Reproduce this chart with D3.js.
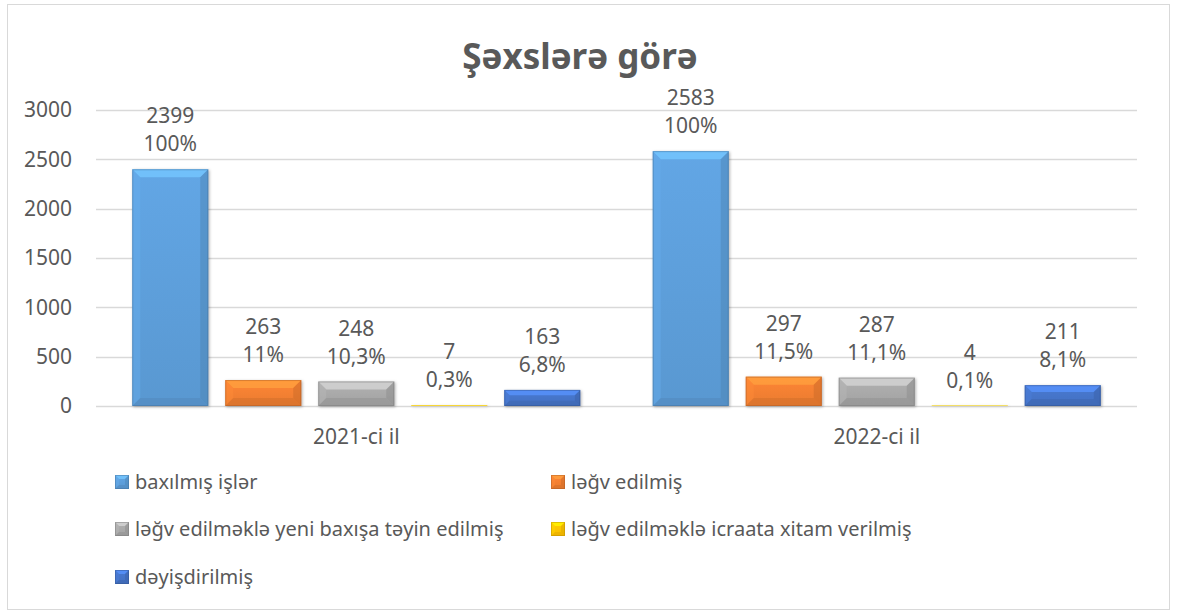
<!DOCTYPE html>
<html>
<head>
<meta charset="utf-8">
<script src="https://cdn.jsdelivr.net/npm/d3@7"></script>
<style>
  body { margin: 0; background: #fff; }
  text { font-family: "Noto Sans", "Open Sans", sans-serif; fill: #595959; }
</style>
</head>
<body>
<svg id="chart" width="1177" height="615"></svg>
<script>
// data
var years = ["2021-ci il", "2022-ci il"];
var seriesNames = [
  "baxılmış işlər",
  "ləğv edilmiş",
  "ləğv edilməklə yeni baxışa təyin edilmiş",
  "ləğv edilməklə icraata xitam verilmiş",
  "dəyişdirilmiş"
];
var values2021 = [2399, 263, 248, 7, 163];
var values2022 = [2583, 297, 287, 4, 211];
var pct2021 = ["100%", "11%", "10,3%", "0,3%", "6,8%"];
var pct2022 = ["100%", "11,5%", "11,1%", "0,1%", "8,1%"];
var yTicks = [0, 500, 1000, 1500, 2000, 2500, 3000];
var colors = ["#5B9BD5", "#ED7D31", "#A5A5A5", "#FFC000", "#4472C4"];

var svg = d3.select("#chart");

// chart frame
svg.append("rect")
  .attr("x", 7.5).attr("y", 4.5)
  .attr("width", 1162).attr("height", 605)
  .attr("fill", "#fff")
  .attr("stroke", "#D9D9D9");

var margin = {top: 110, left: 96, right: 40, bottom: 209};
var width = 1177 - margin.left - margin.right,
    height = 615 - margin.top - margin.bottom;

var g = svg.append("g")
  .attr("transform", "translate(" + margin.left + "," + margin.top + ")");

var x0 = d3.scaleBand().domain(years).range([0, width]);
var x1 = d3.scaleBand().domain(d3.range(seriesNames.length))
  .range([0, x0.bandwidth()]).paddingInner(0.183).paddingOuter(0.39);
var y = d3.scaleLinear().domain([0, 3000]).range([height, 0]);

// gradients per colour
var defs = svg.append("defs");
colors.forEach(function(c, i) {
  var grad = defs.append("linearGradient")
    .attr("id", "grad" + i)
    .attr("x1", 0).attr("y1", 0).attr("x2", 0).attr("y2", 1);
  grad.append("stop").attr("offset", "0%").attr("stop-color", d3.color(c).brighter(0.2));
  grad.append("stop").attr("offset", "100%").attr("stop-color", d3.color(c).darker(0.05));
});

// grid
g.selectAll(".grid").data(yTicks).enter().append("line")
  .attr("x1", 0).attr("x2", width)
  .attr("y1", function(d) { return Math.round(y(d)) + 0.5; })
  .attr("y2", function(d) { return Math.round(y(d)) + 0.5; })
  .attr("stroke", "#D9D9D9").attr("stroke-width", 1.3);

// y axis labels
var yAxis = g.append("g").call(d3.axisLeft(y).tickValues(yTicks).tickFormat(d3.format("d"))
  .tickSize(0).tickPadding(24));
yAxis.select(".domain").remove();
yAxis.selectAll("text").style("font-size", "21px").attr("fill", "#595959")
  .style("font-family", "'Noto Sans', sans-serif");

// x axis labels
var xAxis = g.append("g").attr("transform", "translate(0," + height + ")")
  .call(d3.axisBottom(x0).tickSize(0).tickPadding(23));
xAxis.select(".domain").remove();
xAxis.selectAll("text").style("font-size", "21px").attr("fill", "#595959")
  .style("font-family", "'Noto Sans', sans-serif");

// bevelled bar
function bevelBar(sel, bx, by, bw, bh, i, bmax) {
  var c = colors[i];
  var b = Math.min(bmax, bh / 3, bw / 3);
  sel.append("rect").attr("x", bx).attr("y", by).attr("width", bw).attr("height", bh)
    .attr("fill", "url(#grad" + i + ")");
  // top bevel (light)
  sel.append("path")
    .attr("d", "M" + bx + "," + by + "L" + (bx + bw) + "," + by + "L" + (bx + bw - b) + "," + (by + b) +
      "L" + (bx + b) + "," + (by + b) + "Z")
    .attr("fill", d3.color(c).brighter(0.7)).attr("opacity", 0.8);
  // left bevel
  sel.append("path")
    .attr("d", "M" + bx + "," + by + "L" + (bx + b) + "," + (by + b) + "L" + (bx + b) + "," + (by + bh - b) +
      "L" + bx + "," + (by + bh) + "Z")
    .attr("fill", d3.color(c).brighter(0.3)).attr("opacity", 0.45);
  // right bevel
  sel.append("path")
    .attr("d", "M" + (bx + bw) + "," + by + "L" + (bx + bw - b) + "," + (by + b) + "L" + (bx + bw - b) + "," + (by + bh - b) +
      "L" + (bx + bw) + "," + (by + bh) + "Z")
    .attr("fill", d3.color(c).darker(0.5)).attr("opacity", 0.45);
  // bottom bevel
  sel.append("path")
    .attr("d", "M" + bx + "," + (by + bh) + "L" + (bx + b) + "," + (by + bh - b) + "L" + (bx + bw - b) + "," + (by + bh - b) +
      "L" + (bx + bw) + "," + (by + bh) + "Z")
    .attr("fill", d3.color(c).darker(0.4)).attr("opacity", 0.45);
  sel.append("rect").attr("x", bx + 0.5).attr("y", by + 0.5).attr("width", Math.max(0, bw - 1)).attr("height", Math.max(0, bh - 1))
    .attr("fill", "none").attr("stroke", d3.color(c).darker(0.9)).attr("stroke-opacity", 0.45);
}

var groups = [
  {year: years[0], values: values2021, pct: pct2021},
  {year: years[1], values: values2022, pct: pct2022}
];

groups.forEach(function(gr) {
  var gg = g.append("g").attr("transform", "translate(" + x0(gr.year) + ",0)");
  gr.values.forEach(function(v, i) {
    var bx = x1(i), bw = x1.bandwidth();
    var by = y(v), bh = height - y(v);
    var bar = gg.append("g").attr("filter", "drop-shadow(1px 1px 1.5px rgba(0,0,0,0.3))");
    bevelBar(bar, bx, by, bw, bh, i, 8);
    var lbl = gg.append("text")
      .attr("x", bx + bw / 2)
      .attr("text-anchor", "middle")
      .style("font-size", "21px");
    lbl.append("tspan").attr("x", bx + bw / 2).attr("y", by - 46).text(v);
    lbl.append("tspan").attr("x", bx + bw / 2).attr("y", by - 18).text(gr.pct[i]);
  });
});

// title
svg.append("text")
  .attr("x", 580).attr("y", 69)
  .attr("text-anchor", "middle")
  .style("font-size", "35px").style("font-weight", "bold")
  .text("Şəxslərə görə");

// legend
var legendPos = [[115, 482], [551, 482], [115, 529], [551, 529], [115, 577]];
seriesNames.forEach(function(name, i) {
  var lg = svg.append("g").attr("transform", "translate(" + legendPos[i][0] + "," + legendPos[i][1] + ")");
  bevelBar(lg, 0, -7, 14, 14, i, 4);
  lg.append("text").attr("x", 20).attr("y", 7).style("font-size", "20px").text(name);
});
</script>
</body>
</html>
